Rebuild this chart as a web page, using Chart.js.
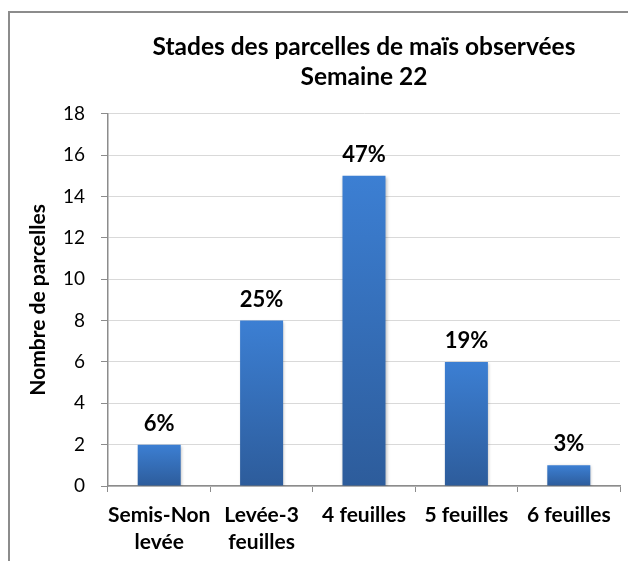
<!DOCTYPE html>
<html>
<head>
<meta charset="utf-8">
<script src="https://cdn.jsdelivr.net/npm/chart.js@4"></script>
<style>
  html, body { margin: 0; padding: 0; background: #fff; }
  #wrap { width: 628px; height: 561px; position: relative; }
</style>
</head>
<body>
<div id="wrap"><canvas id="chart" width="628" height="561"></canvas></div>
<script>
const categories = [['Semis-Non', 'levée'], ['Levée-3', 'feuilles'], '4 feuilles', '5 feuilles', '6 feuilles'];
const parcelCounts = [2, 8, 15, 6, 1];
const percentLabels = ['6%', '25%', '47%', '19%', '3%'];
const titleLines = ['Stades des parcelles de maïs observées', 'Semaine 22'];
const yTitle = 'Nombre de parcelles';

const FONT = 'Lato, "Open Sans", sans-serif';

// frame drawn around the chart, like the pasted Excel object
const framePlugin = {
  id: 'frame',
  beforeDraw(chart) {
    const { ctx } = chart;
    ctx.save();
    ctx.strokeStyle = '#8c8c8c';
    ctx.lineWidth = 2;
    ctx.beginPath();
    ctx.moveTo(9, 561);
    ctx.lineTo(9, 12);
    ctx.lineTo(628, 12);
    ctx.stroke();
    ctx.restore();
  }
};

// bars get a soft shadow
const shadowPlugin = {
  id: 'barShadow',
  beforeDatasetsDraw(chart) {
    const { ctx } = chart;
    ctx.save();
    ctx.shadowColor = 'rgba(0,0,0,0.25)';
    ctx.shadowBlur = 3;
    ctx.shadowOffsetX = 1;
    ctx.shadowOffsetY = 1;
  },
  afterDatasetsDraw(chart) {
    chart.ctx.restore();
  }
};

// percentage above each bar
const pctPlugin = {
  id: 'pctLabels',
  afterDatasetsDraw(chart) {
    const { ctx } = chart;
    const meta = chart.getDatasetMeta(0);
    ctx.save();
    ctx.font = 'bold 22px ' + FONT;
    ctx.fillStyle = '#000';
    ctx.textAlign = 'center';
    ctx.textBaseline = 'middle';
    meta.data.forEach((bar, i) => {
      ctx.fillText(percentLabels[i], bar.x, bar.y - 21);
    });
    ctx.restore();
  }
};

function barGradient(context) {
  const chart = context.chart;
  const area = chart.chartArea;
  if (!area) return '#3a76c4';
  const y = chart.scales.y;
  const v = parcelCounts[context.dataIndex];
  const top = y.getPixelForValue(v);
  const base = y.getPixelForValue(0);
  const g = chart.ctx.createLinearGradient(0, top, 0, base);
  g.addColorStop(0, '#3c7fd3');
  g.addColorStop(1, '#2d5c9b');
  return g;
}

new Chart(document.getElementById('chart'), {
  type: 'bar',
  data: {
    labels: categories,
    datasets: [{
      data: parcelCounts,
      backgroundColor: barGradient,
      borderWidth: 0,
      barPercentage: 0.42,
      categoryPercentage: 1
    }]
  },
  options: {
    responsive: false,
    animation: false,
    layout: { padding: { top: 32, left: 26, right: 8, bottom: 0 } },
    plugins: {
      legend: { display: false },
      tooltip: { enabled: false },
      title: {
        display: true,
        text: titleLines,
        fullSize: false,
        color: '#000',
        font: { family: FONT, size: 24.5, weight: 'bold', lineHeight: 1.22 },
        padding: { top: 0, bottom: 22 }
      }
    },
    scales: {
      x: {
        grid: {
          offset: true,
          drawOnChartArea: false,
          drawTicks: true,
          tickLength: 6,
          color: '#8c8c8c'
        },
        border: { color: '#8c8c8c', width: 1.5 },
        ticks: {
          color: '#000',
          padding: 10,
          maxRotation: 0,
          autoSkip: false,
          font: { family: FONT, size: 21, weight: 'bold', lineHeight: 1.27 }
        },
        afterFit(scale) { scale.height = 75; }
      },
      y: {
        min: 0,
        max: 18,
        ticks: {
          stepSize: 2,
          color: '#000',
          padding: 16,
          font: { family: FONT, size: 19 }
        },
        grid: {
          color: '#d9d9d9',
          tickColor: '#8c8c8c',
          tickLength: 7
        },
        border: { color: '#8c8c8c', width: 1.5 },
        title: {
          display: true,
          text: yTitle,
          color: '#000',
          font: { family: FONT, size: 21, weight: 'bold' },
          padding: 0
        },
        afterFit(scale) { scale.width = 82; }
      }
    }
  },
  plugins: [framePlugin, shadowPlugin, pctPlugin]
});
</script>
</body>
</html>
